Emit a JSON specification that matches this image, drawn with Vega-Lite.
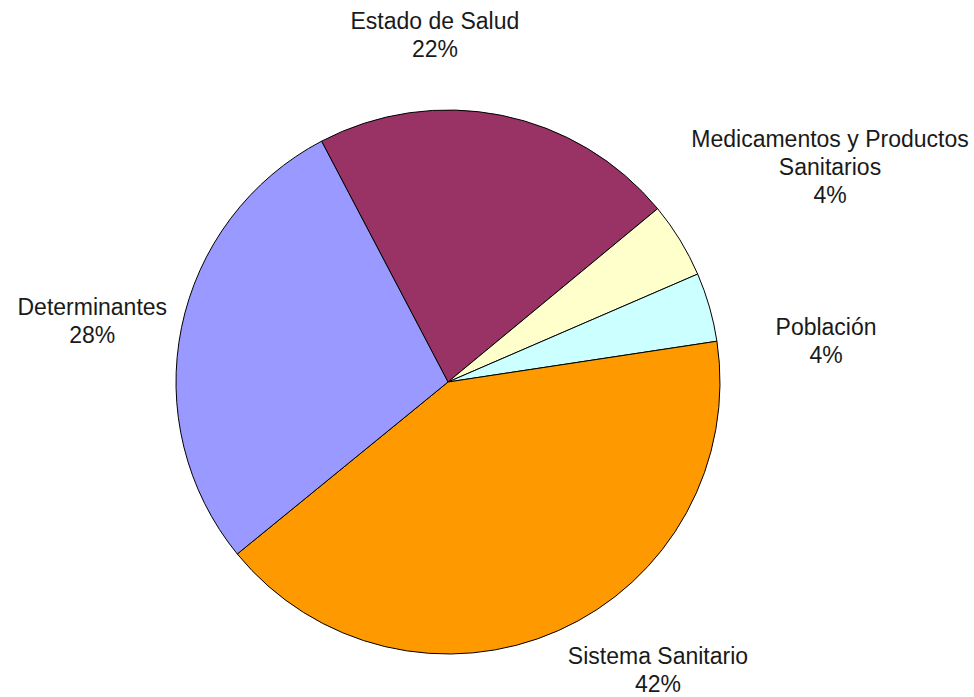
{
  "$schema": "https://vega.github.io/schema/vega-lite/v6.json",
  "width": 544,
  "height": 544,
  "autosize": {"type": "none"},
  "padding": {"left": 176, "top": 110, "right": 254, "bottom": 43},
  "background": "white",
  "config": {"view": {"stroke": null}},
  "data": {
    "values": [
      {"order": 1, "category": "Estado de Salud", "value": 21.7, "label": "Estado de Salud\n22%"},
      {"order": 2, "category": "Medicamentos y Productos Sanitarios", "value": 4.5, "label": "Medicamentos y Productos\nSanitarios\n4%"},
      {"order": 3, "category": "Población", "value": 4.1, "label": "Población\n4%"},
      {"order": 4, "category": "Sistema Sanitario", "value": 41.5, "label": "Sistema Sanitario\n42%"},
      {"order": 5, "category": "Determinantes", "value": 28.2, "label": "Determinantes\n28%"}
    ]
  },
  "encoding": {
    "theta": {"field": "value", "type": "quantitative", "stack": true, "scale": {"range": [-0.4835, 5.7997]}},
    "order": {"field": "order", "type": "quantitative"}
  },
  "layer": [
    {
      "mark": {"type": "arc", "stroke": "#000000", "strokeWidth": 1},
      "encoding": {
        "color": {
          "field": "category",
          "type": "nominal",
          "legend": null,
          "scale": {
            "domain": ["Estado de Salud", "Medicamentos y Productos Sanitarios", "Población", "Sistema Sanitario", "Determinantes"],
            "range": ["#993366", "#FFFFCC", "#CCFFFF", "#FF9900", "#9999FF"]
          }
        }
      }
    },
    {
      "mark": {"type": "text", "radius": 360, "dx": -84, "dy": -7, "align": "center", "baseline": "middle", "font": "Liberation Sans", "fontSize": 23, "lineHeight": 28, "lineBreak": "\n", "color": "#1a1a1a"},
      "encoding": {
        "detail": {"field": "category"},
        "text": {"condition": {"test": "datum.category === 'Estado de Salud'", "field": "label"}, "value": ""}
      }
    },
    {
      "mark": {"type": "text", "radius": 360, "dx": 75, "dy": -54, "align": "center", "baseline": "middle", "font": "Liberation Sans", "fontSize": 23, "lineHeight": 28, "lineBreak": "\n", "color": "#1a1a1a"},
      "encoding": {
        "detail": {"field": "category"},
        "text": {"condition": {"test": "datum.category === 'Medicamentos y Productos Sanitarios'", "field": "label"}, "value": ""}
      }
    },
    {
      "mark": {"type": "text", "radius": 360, "dx": 32, "dy": 45, "align": "center", "baseline": "middle", "font": "Liberation Sans", "fontSize": 23, "lineHeight": 28, "lineBreak": "\n", "color": "#1a1a1a"},
      "encoding": {
        "detail": {"field": "category"},
        "text": {"condition": {"test": "datum.category === 'Población'", "field": "label"}, "value": ""}
      }
    },
    {
      "mark": {"type": "text", "radius": 360, "dx": 64, "dy": -54, "align": "center", "baseline": "middle", "font": "Liberation Sans", "fontSize": 23, "lineHeight": 28, "lineBreak": "\n", "color": "#1a1a1a"},
      "encoding": {
        "detail": {"field": "category"},
        "text": {"condition": {"test": "datum.category === 'Sistema Sanitario'", "field": "label"}, "value": ""}
      }
    },
    {
      "mark": {"type": "text", "radius": 360, "dx": -3, "dy": -2, "align": "center", "baseline": "middle", "font": "Liberation Sans", "fontSize": 23, "lineHeight": 28, "lineBreak": "\n", "color": "#1a1a1a"},
      "encoding": {
        "detail": {"field": "category"},
        "text": {"condition": {"test": "datum.category === 'Determinantes'", "field": "label"}, "value": ""}
      }
    }
  ]
}
